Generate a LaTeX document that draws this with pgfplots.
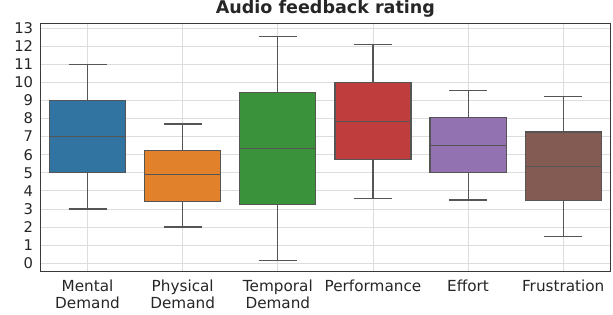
\documentclass[border=0pt]{standalone}
\usepackage{fontspec}
\setmainfont{DejaVu Sans}
\usepackage{pgfplots}
\pgfplotsset{compat=1.18}
\usepgfplotslibrary{statistics}
\definecolor{c1}{HTML}{3274A1}
\definecolor{c2}{HTML}{E1812C}
\definecolor{c3}{HTML}{3A923A}
\definecolor{c4}{HTML}{C03D3E}
\definecolor{c5}{HTML}{9372B2}
\definecolor{c6}{HTML}{845B53}
\definecolor{edge}{HTML}{555555}
\definecolor{gridc}{HTML}{DDDDDD}
\definecolor{framec}{HTML}{3A3A3A}
\definecolor{textc}{HTML}{262626}
\begin{document}
\begin{tikzpicture}
\begin{axis}[
  at={(0,0)}, anchor=south west,
  scale only axis, width=570.7bp, height=247.7bp,
  xmin=-0.5, xmax=5.5, ymin=-0.43, ymax=13.26,
  xtick={0,1,2,3,4,5},
  xticklabels={{Mental\\Demand},{Physical\\Demand},{Temporal\\Demand},{Performance},{Effort},{Frustration}},
  ytick={0,1,...,13},
  /pgf/number format/assume math mode=true,
  xticklabel style={align=center, anchor=north, inner sep=0pt, yshift=-8.3bp, font=\fontsize{15.3}{17}\selectfont, text=textc},
  yticklabel style={anchor=east, inner sep=0pt, xshift=-6.7bp, font=\fontsize{14.8}{17}\selectfont, text=textc},
  tick style={draw=none},
  grid=major, major grid style={color=gridc, line width=0.8bp},
  axis line style={color=framec, line width=1bp},
  title={Audio feedback rating},
  title style={anchor=base, at={(0.5,1)}, yshift=4bp, inner sep=0pt, font=\fontsize{17.6}{20}\selectfont\bfseries, text=textc},
  boxplot/draw direction=y,
]
\addplot[boxplot prepared={draw position=0, lower whisker=3, lower quartile=5, median=7, upper quartile=9, upper whisker=11, box extend=0.8, whisker extend=0.4}, fill=c1, draw=edge, line width=1.2bp] coordinates {};
\addplot[boxplot prepared={draw position=1, lower whisker=2, lower quartile=3.4, median=4.9, upper quartile=6.25, upper whisker=7.7, box extend=0.8, whisker extend=0.4}, fill=c2, draw=edge, line width=1.2bp] coordinates {};
\addplot[boxplot prepared={draw position=2, lower whisker=0.15, lower quartile=3.25, median=6.35, upper quartile=9.45, upper whisker=12.55, box extend=0.8, whisker extend=0.4}, fill=c3, draw=edge, line width=1.2bp] coordinates {};
\addplot[boxplot prepared={draw position=3, lower whisker=3.6, lower quartile=5.75, median=7.85, upper quartile=10, upper whisker=12.1, box extend=0.8, whisker extend=0.4}, fill=c4, draw=edge, line width=1.2bp] coordinates {};
\addplot[boxplot prepared={draw position=4, lower whisker=3.5, lower quartile=5, median=6.5, upper quartile=8.05, upper whisker=9.55, box extend=0.8, whisker extend=0.4}, fill=c5, draw=edge, line width=1.2bp] coordinates {};
\addplot[boxplot prepared={draw position=5, lower whisker=1.5, lower quartile=3.45, median=5.35, upper quartile=7.25, upper whisker=9.2, box extend=0.8, whisker extend=0.4}, fill=c6, draw=edge, line width=1.2bp] coordinates {};
\end{axis}
\pgfresetboundingbox
\path[use as bounding box] (-40bp,-43bp) rectangle (572.9bp,271bp);
\end{tikzpicture}
\end{document}
